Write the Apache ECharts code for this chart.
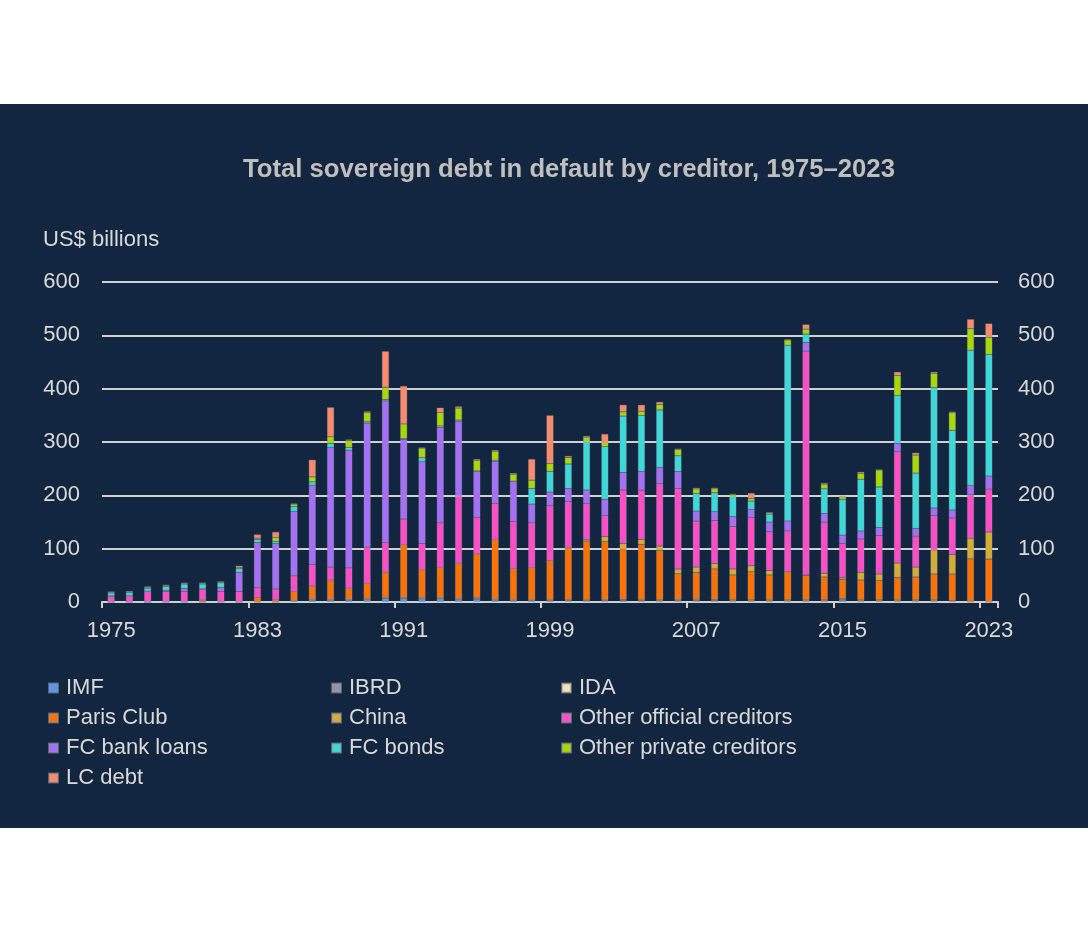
<!DOCTYPE html>
<html>
<head>
<meta charset="utf-8">
<script src="https://cdn.jsdelivr.net/npm/echarts@6/dist/echarts.min.js"></script>
<style>
  html, body { margin: 0; padding: 0; background: #ffffff; }
  #band { position: absolute; left: 0; top: 104px; width: 1088px; height: 724px; background: #12263f; }
  #chart { position: absolute; left: 0; top: 0; width: 1088px; height: 933px; }
</style>
</head>
<body>
<div id="band"></div>
<div id="chart"></div>
<script>
const years = [];
for (let y = 1975; y <= 2023; y++) years.push(String(y));

const imf = [0,0,0,0,0,0,0,0,0,0,
  2.5,4,4,4,4.5,6.5,6.5,6,6,5,5.5,4,3,3,2.5,1.5,1.5,1,3,1,0.5,1,1,2,0.5,0.5,0.5,0.5,0.5,0.5,4,0.5,0.5,0.5,0.5,0.5,0.5,0,0];
const ibrd = [0,0,0,0,0,0,0,0,0,0,
  0.5,1,1,1,1,1.5,1.5,1.5,1.5,1,1.5,1,0.75,0.75,1,1.5,1.5,2,1,1.5,1.5,2,2,1.5,1.5,1.5,1.5,1.5,1.5,1.5,1,1.5,1.5,1.5,1.5,1.5,1,0.5,0.5];
const ida = [0,0,0,0,0,0,0,0,0,0,
  0,0,0,0,0,0,0,0,0,0,0.5,0,0,0,0.25,0.75,0.75,2,1,1.25,1.75,2,2,1.5,1.75,1.75,1.75,1.75,1.75,1.75,1.25,1.75,1.75,1.75,1.75,1.75,1,1,0.5];
const parisClub = [0.5,0.5,0.5,1,1,3.8,1,1,8.75,4.4,
  17,25,36,21,29.4,48,100,53.75,57,67,82.5,112,58.75,61,73.75,98.75,110.6,108,95.6,104,92.5,48,50.6,57,47,53,47,53,45.6,43,36,37.5,36.25,42.5,43,48.75,50,79.4,79.4];
const china = [0,0,0,0,0,0,0,0,0,0,
  0,0,0,0,0,0,0,0,0,0,0,0,0,0,0,0,3,9.4,9.4,9.4,8.75,8.75,10,10,11.25,11.25,8,0.5,1,7,3,14.4,12.5,26.9,18.75,45,36.25,38.75,50.6];
const otherOfficial = [10,11,19.4,19,19,20,19,19,18.75,20,
  29,40,24.4,38,68,56,47.5,48.75,84,125.6,68.75,68,88.75,83.75,103,85.6,67,39.4,100,92.5,117,151,86,81,79.4,90,73,76,420,96,64.4,62.5,71.9,208.75,58,64.4,68.75,81.25,80.6];
const fcBankLoans = [1,0.5,0.5,2,5.6,1,7,35.6,84,85,
  120.6,149,224,220.6,232.5,265,149.4,153,179,140.6,86,78.75,74.4,35,25.6,25,25.6,30.6,33,35,30.6,32,18.75,16.25,18.75,15.6,18,18.75,16.25,16.25,15.6,15,15.6,15.6,14.4,14.4,15,18.1,24.4];
const fcBonds = [5.6,6,5.6,7,8,9,9,7,5.6,4.4,
  9.4,6.25,8,5,2.5,2.5,2,7.5,2.5,2,1,2,1,29.4,38.75,45.6,90.6,98.75,105.6,105,107.5,29.4,33,35.6,37.5,15.6,15,329.4,15.6,46.25,67,97,75.6,89.4,103.75,225.6,149.4,253,228];
const otherPrivate = [1.5,1.5,2,2,1.5,1.5,1.5,2.5,2.5,7.5,
  4.6,9.4,12.5,13,17,23,27,18,25.6,22.5,20,17,13,15.6,15,12.5,8.75,7.5,8,8,10,12,8.75,7.5,3.75,5,2.5,10,9.4,8.75,5,11.25,31.9,37.5,33.75,26.9,33.75,40.6,32.5];
const lcDebt = [0.5,0.5,1,1,0.5,0.5,0.5,3,7,10,
  1,32,55,2,2.5,67.5,71,1,8.75,3,2,2,2,39.4,90,2.5,2,16.25,13,12,5,1,2,2,1,10,1,1,8.75,2,2,2.5,1,6.9,4.4,2.5,1,17.5,25.6];

const yTicks = [0, 100, 200, 300, 400, 500, 600];

const seriesDefs = [
  ['IMF', imf, '#4f97f0'],
  ['IBRD', ibrd, '#8d96a4'],
  ['IDA', ida, '#f2e2b0'],
  ['Paris Club', parisClub, '#ff7200'],
  ['China', china, '#d6ad34'],
  ['Other official creditors', otherOfficial, '#ff4fc6'],
  ['FC bank loans', fcBankLoans, '#a470f7'],
  ['FC bonds', fcBonds, '#3dd8d8'],
  ['Other private creditors', otherPrivate, '#a8d800'],
  ['LC debt', lcDebt, '#ff8b6c']
];

const FONT = 'Liberation Sans, Arial, sans-serif';
const TXT = '#d9d9d9';

const chart = echarts.init(document.getElementById('chart'), null, { renderer: 'canvas' });

const series = seriesDefs.map(([name, data, color]) => ({
  name, type: 'bar', stack: 'total', data,
  barWidth: 7,
  itemStyle: { color, borderColor: 'rgba(150,150,160,0.55)', borderWidth: 0.6 },
  emphasis: { disabled: true }
}));

function legendCol(left, names) {
  return {
    orient: 'vertical', left, top: 677, padding: 0,
    data: names,
    itemWidth: 9, itemHeight: 9, itemGap: 8,
    icon: 'rect',
    textStyle: { color: TXT, fontSize: 22, fontFamily: FONT, lineHeight: 22, padding: [0, 0, 0, 3] },
    selectedMode: false
  };
}

chart.setOption({
  backgroundColor: 'transparent',
  animation: false,
  title: {
    text: 'Total sovereign debt in default by creditor, 1975\u20132023',
    left: 243, top: 157, padding: 0,
    textStyle: { color: '#bfbfbf', fontSize: 25.7, fontWeight: 'bold', fontFamily: FONT }
  },
  graphic: [{
    type: 'text', left: 43, top: 229,
    style: { text: 'US$ billions', fill: TXT, fontSize: 22, fontFamily: FONT }
  }],
  legend: [
    legendCol(48, ['IMF', 'Paris Club', 'FC bank loans', 'LC debt']),
    legendCol(331, ['IBRD', 'China', 'FC bonds']),
    legendCol(561, ['IDA', 'Other official creditors', 'Other private creditors'])
  ],
  grid: { left: 102, right: 90, top: 282, bottom: 331, containLabel: false },
  xAxis: {
    type: 'category', data: years,
    axisLine: { lineStyle: { color: '#d0d0d0', width: 2 } },
    axisTick: { show: true, interval: 7, length: 6, lineStyle: { color: '#d0d0d0', width: 2 } },
    axisLabel: { interval: 7, color: TXT, fontSize: 22, fontFamily: FONT, margin: 18 },
    splitLine: { show: false }
  },
  yAxis: [
    {
      type: 'value', min: yTicks[0], max: yTicks[yTicks.length - 1], interval: 100, position: 'left',
      axisLine: { show: false }, axisTick: { show: false },
      axisLabel: { color: TXT, fontSize: 22, fontFamily: FONT, margin: 22 },
      splitLine: { lineStyle: { color: '#d0d0d0', width: 2 } }
    },
    {
      type: 'value', min: yTicks[0], max: yTicks[yTicks.length - 1], interval: 100, position: 'right',
      axisLine: { show: false }, axisTick: { show: false },
      axisLabel: { color: TXT, fontSize: 22, fontFamily: FONT, margin: 20 },
      splitLine: { show: false }
    }
  ],
  series
});
</script>
</body>
</html>
